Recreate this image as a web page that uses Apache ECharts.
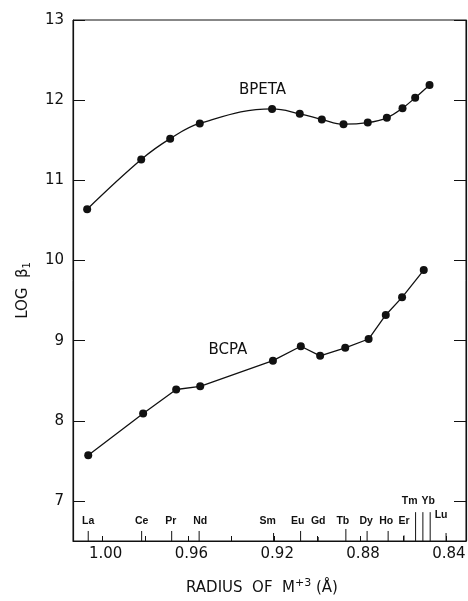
<!DOCTYPE html>
<html>
<head>
<meta charset="utf-8">
<script src="https://cdn.jsdelivr.net/npm/echarts@6/dist/echarts.min.js"></script>
<style>
html, body { margin: 0; padding: 0; background: #fff; }
#chart { width: 468px; height: 601px; }
</style>
</head>
<body>
<div id="chart"></div>
<script>
// values
var bpetaRadius = [1.0072, 0.9820, 0.9685, 0.9547, 0.9210, 0.9081, 0.8978, 0.8877, 0.8764, 0.8675, 0.8602, 0.8543, 0.8476];
var bpetaLogB = [10.64, 11.26, 11.52, 11.71, 11.89, 11.83, 11.76, 11.70, 11.72, 11.78, 11.90, 12.03, 12.19];

var bcpaRadius = [1.0067, 0.9811, 0.9657, 0.9545, 0.9206, 0.9076, 0.8986, 0.8869, 0.8760, 0.8680, 0.8604, 0.8503];
var bcpaLogB = [7.57, 8.09, 8.39, 8.43, 8.75, 8.93, 8.81, 8.91, 9.02, 9.32, 9.54, 9.88];

// lanthanide markers along the bottom axis
var elementNames = ['La', 'Ce', 'Pr', 'Nd', 'Sm', 'Eu', 'Gd', 'Tb', 'Dy', 'Ho', 'Er', 'Tm', '', 'Yb', 'Lu'];
var elementRadius = [1.0067, 0.9818, 0.9678, 0.9550, 0.9203, 0.9077, 0.8995, 0.8866, 0.8767, 0.8669, 0.8595, 0.8541, 0.8507, 0.8473, 0.8399];

var xTickValues = [1.00, 0.98, 0.96, 0.94, 0.92, 0.90, 0.88, 0.86, 0.84];
var xLabelValues = [1.00, 0.96, 0.92, 0.88, 0.84];
var yTickValues = [7, 8, 9, 10, 11, 12, 13];

// marker line length and label level (log units above the axis floor), label nudge in px
var markerLen = [0.125, 0.125, 0.125, 0.125, 0.1, 0.125, 0.05, 0.15, 0.125, 0.125, 0.07, 0.36, 0.36, 0.36, 0.1];
var labelLevel = [0.175, 0.175, 0.175, 0.175, 0.175, 0.175, 0.175, 0.175, 0.175, 0.175, 0.175, 0.425, 0, 0.425, 0.25];
var labelNudge = [0, 0, -1, 1, -6, -3, 0, -3, -1, -2, 0, -6, 0, -2, -5];

var yFloor = 6.5;
var ink = '#111';
var font = 'DejaVu Sans';

function pairs(xs, ys) {
    return xs.map(function (x, i) { return [x, ys[i]]; });
}

var chart = echarts.init(document.getElementById('chart'));

var option = {
    backgroundColor: '#fff',
    animation: false,
    grid: {
        left: 73,
        right: 2,
        top: 20,
        bottom: 60,
        show: true,
        borderColor: ink,
        borderWidth: 1,
        outerBoundsMode: 'none'
    },
    xAxis: {
        type: 'value',
        inverse: true,
        min: 0.8306,
        max: 1.0138,
        splitLine: { show: false },
        axisLine: { lineStyle: { color: ink, width: 1.2 } },
        axisTick: {
            inside: true,
            length: 5,
            customValues: xTickValues,
            lineStyle: { color: ink }
        },
        axisLabel: {
            customValues: xLabelValues,
            formatter: function (v) { return v.toFixed(2); },
            color: ink,
            fontFamily: font,
            fontSize: 15,
            margin: 6,
            padding: [0, 0, 0, 6]
        },
        name: 'RADIUS  OF  M{sup|+3} (Å)',
        nameLocation: 'middle',
        nameGap: 37,
        nameTextStyle: {
            color: ink,
            fontFamily: font,
            fontSize: 15,
            padding: [0, 15, 0, 0],
            rich: {
                sup: { fontSize: 11, fontFamily: font, color: ink, padding: [0, 0, 10, 0] }
            }
        }
    },
    yAxis: [{
        type: 'value',
        min: yFloor,
        max: 13,
        position: 'left',
        splitLine: { show: false },
        axisLine: { show: true, lineStyle: { color: ink, width: 1.2 } },
        axisTick: {
            show: true,
            inside: true,
            length: 12,
            customValues: yTickValues,
            lineStyle: { color: ink }
        },
        axisLabel: {
            customValues: yTickValues,
            color: ink,
            fontFamily: font,
            fontSize: 15,
            margin: 9
        },
        name: 'LOG  β{sub|1}',
        nameLocation: 'middle',
        nameGap: 41,
        nameRotate: 90,
        nameTextStyle: {
            color: ink,
            fontFamily: font,
            fontSize: 15,
            padding: [0, 20, 0, 0],
            rich: {
                sub: { fontSize: 10, fontFamily: font, color: ink, padding: [8, 0, 0, 0] }
            }
        }
    }, {
        type: 'value',
        min: yFloor,
        max: 13,
        position: 'right',
        splitLine: { show: false },
        axisLine: { show: true, lineStyle: { color: ink, width: 1.2 } },
        axisTick: {
            show: true,
            inside: true,
            length: 12,
            customValues: yTickValues,
            lineStyle: { color: ink }
        },
        axisLabel: { show: false }
    }],
    series: [
        {
            name: 'BPETA',
            type: 'line',
            data: pairs(bpetaRadius, bpetaLogB),
            smooth: 0.4,
            symbol: 'circle',
            symbolSize: 8,
            itemStyle: { color: ink },
            lineStyle: { color: ink, width: 1.3 },
            markPoint: {
                symbol: 'circle',
                symbolSize: 0,
                label: {
                    show: true,
                    formatter: 'BPETA',
                    color: ink,
                    fontFamily: font,
                    fontSize: 15,
                    position: 'inside'
                },
                data: [{ coord: [0.9255, 12.13] }]
            }
        },
        {
            name: 'BCPA',
            type: 'line',
            data: pairs(bcpaRadius, bcpaLogB),
            smooth: false,
            symbol: 'circle',
            symbolSize: 8,
            itemStyle: { color: ink },
            lineStyle: { color: ink, width: 1.3 },
            markPoint: {
                symbol: 'circle',
                symbolSize: 0,
                label: {
                    show: true,
                    formatter: 'BCPA',
                    color: ink,
                    fontFamily: font,
                    fontSize: 15,
                    position: 'inside'
                },
                data: [{ coord: [0.9416, 8.88] }]
            }
        },
        {
            name: 'elements',
            type: 'custom',
            silent: true,
            data: elementRadius.map(function (r) { return [r, yFloor]; }),
            renderItem: function (params, api) {
                var i = params.dataIndex;
                var r = api.value(0);
                var base = api.coord([r, yFloor]);
                var top = api.coord([r, yFloor + markerLen[i]]);
                var lab = api.coord([r, yFloor + labelLevel[i]]);
                var children = [{
                    type: 'line',
                    shape: { x1: base[0], y1: base[1], x2: top[0], y2: top[1] },
                    style: { stroke: ink, lineWidth: 1 }
                }];
                if (elementNames[i]) {
                    children.push({
                        type: 'text',
                        x: lab[0] + labelNudge[i],
                        y: lab[1],
                        style: {
                            text: elementNames[i],
                            fontFamily: 'Liberation Sans',
                            fontSize: 10.5,
                            fontWeight: 'bold',
                            fill: ink,
                            align: 'center',
                            verticalAlign: 'bottom'
                        }
                    });
                }
                return { type: 'group', children: children };
            }
        }
    ]
};

chart.setOption(option);
</script>
</body>
</html>
